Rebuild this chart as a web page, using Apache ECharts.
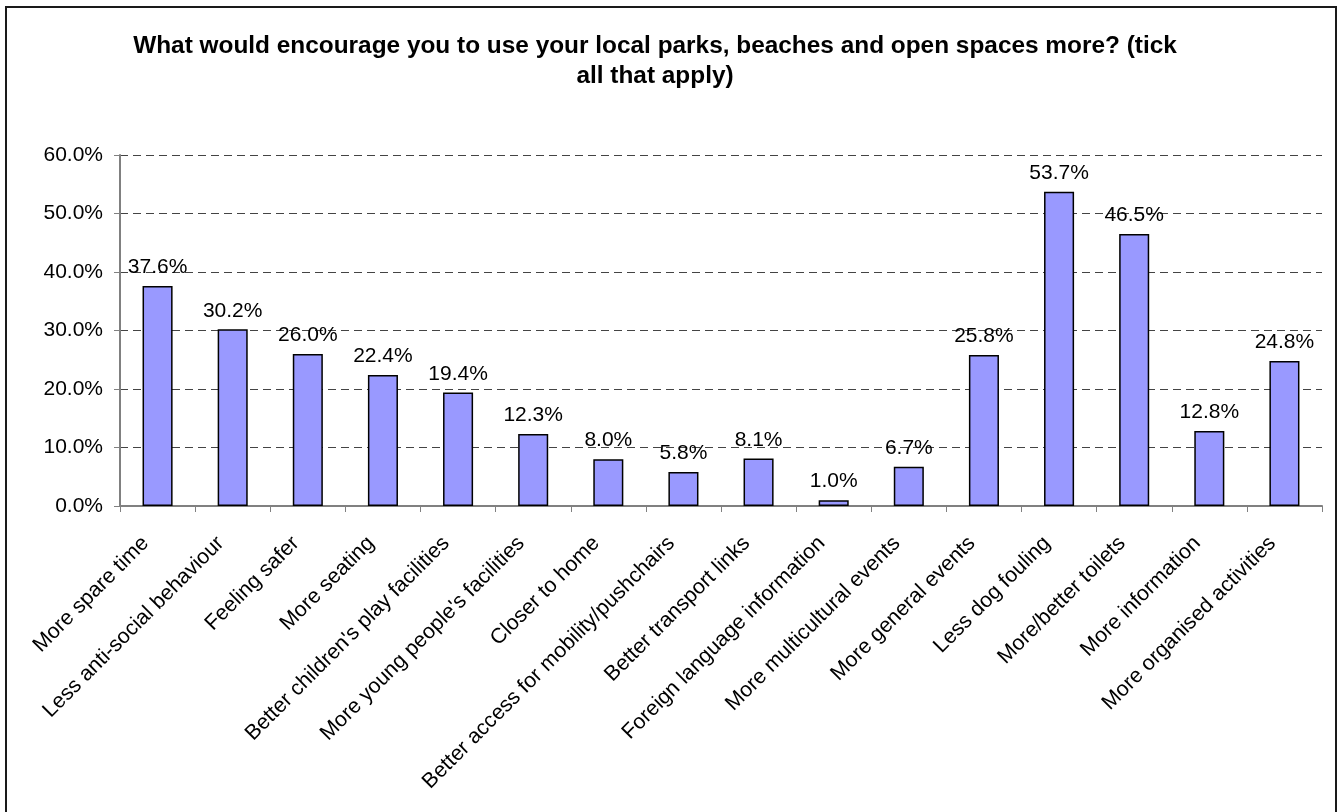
<!DOCTYPE html>
<html>
<head>
<meta charset="utf-8">
<script src="https://cdn.jsdelivr.net/npm/echarts@6/dist/echarts.min.js"></script>
<style>
html,body{margin:0;padding:0;background:#fff;}
#chart{width:1341px;height:812px;}
</style>
</head>
<body>
<div id="chart"></div>
<script>
const titleText = "What would encourage you to use your local parks, beaches and open spaces more? (tick\nall that apply)";
const categories = [
  "More spare time",
  "Less anti-social behaviour",
  "Feeling safer",
  "More seating",
  "Better children's play facilities",
  "More young people's facilities",
  "Closer to home",
  "Better access for mobility/pushchairs",
  "Better transport links",
  "Foreign language information",
  "More multicultural events",
  "More general events",
  "Less dog fouling",
  "More/better toilets",
  "More information",
  "More organised activities"
];
const values = [37.6, 30.2, 26.0, 22.4, 19.4, 12.3, 8.0, 5.8, 8.1, 1.0, 6.7, 25.8, 53.7, 46.5, 12.8, 24.8];
const yMin = 0, yMax = 60, yStep = 10;

const FONT = '"Liberation Sans", Arial, sans-serif';
const chart = echarts.init(document.getElementById('chart'), null, {renderer: 'canvas'});
chart.setOption({
  backgroundColor: '#ffffff',
  animation: false,
  graphic: [
    {
      type: 'rect',
      shape: {x: 6, y: 7, width: 1330, height: 830},
      style: {fill: 'none', stroke: '#1a1a1a', lineWidth: 2},
      silent: true
    },
    {
      type: 'text',
      x: 655, y: 31,
      style: {
        text: titleText,
        fontFamily: FONT,
        fontSize: 24.4,
        fontWeight: 'bold',
        fill: '#000',
        align: 'center',
        verticalAlign: 'top',
        lineHeight: 30
      }
    }
  ],
  grid: {left: 120, right: 19, top: 155, bottom: 306, containLabel: false},
  xAxis: {
    type: 'category',
    data: categories,
    axisLine: {show: true, lineStyle: {color: '#808080', width: 2}},
    axisTick: {show: true, alignWithLabel: false, length: 6, lineStyle: {color: '#808080', width: 1}},
    axisLabel: {
      interval: 0,
      rotate: 45,
      fontFamily: FONT,
      fontSize: 21.3,
      color: '#000',
      margin: 22,
      padding: [0, 17, 0, 0]
    }
  },
  yAxis: {
    type: 'value',
    min: yMin, max: yMax, interval: yStep,
    axisLine: {show: true, lineStyle: {color: '#808080', width: 2}},
    axisTick: {show: true, length: 6, lineStyle: {color: '#808080', width: 1}},
    axisLabel: {
      fontFamily: FONT,
      fontSize: 21,
      color: '#000',
      margin: 17,
      formatter: v => v.toFixed(1) + '%'
    },
    splitLine: {show: true, lineStyle: {color: '#444', type: [8, 5], width: 1}}
  },
  series: [{
    type: 'bar',
    data: values,
    barCategoryGap: '60%',
    itemStyle: {color: '#9999FF', borderColor: '#000', borderWidth: 1.5},
    label: {
      show: true,
      position: 'top',
      distance: 8,
      fontFamily: FONT,
      fontSize: 21,
      color: '#000',
      formatter: p => p.value.toFixed(1) + '%'
    }
  }]
});
</script>
</body>
</html>
